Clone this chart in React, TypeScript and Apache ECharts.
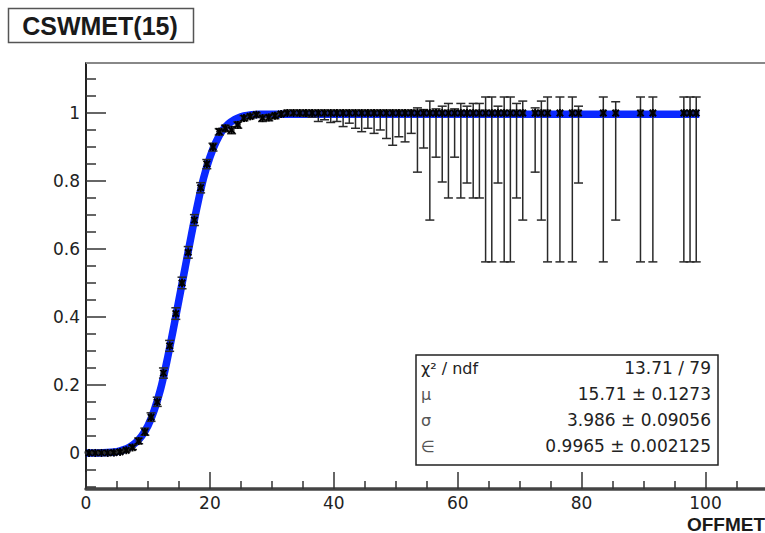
import React, { useEffect, useRef } from "react";
import * as echarts from "echarts";

// ---- data ----
const binCenters = [
  0.5, 1.5, 2.5, 3.5, 4.5, 5.5, 6.5, 7.5, 8.5, 9.5,
  10.5, 11.5, 12.5, 13.5, 14.5, 15.5, 16.5, 17.5, 18.5, 19.5,
  20.5, 21.5, 22.5, 23.5, 24.5, 25.5, 26.5, 27.5, 28.5, 29.5,
  30.5, 31.5, 32.5,
  33.5, 34.5, 35.5, 36.5, 37.5, 38.5, 39.5, 40.5, 41.5, 42.5,
  43.5, 44.5, 45.5, 46.5, 47.5, 48.5, 49.5, 50.5, 51.5, 52.5,
  53.5, 54.5, 55.5, 56.5, 57.5, 58.5, 59.5, 60.5, 61.5, 62.5, 63.5,
  64.5, 65.5, 66.5, 67.5, 68.5, 69.5, 70.5, 72.5, 73.5, 74.5,
  76.5, 78.5, 79.5, 83.5, 85.5, 89.5, 91.5, 96.5, 97.5, 98.5,
];

const efficiency = [
  0, 0, 0, 0, 0.001, 0.003, 0.008, 0.016, 0.035, 0.062,
  0.105, 0.15, 0.235, 0.315, 0.41, 0.5, 0.59, 0.685, 0.78, 0.85,
  0.9, 0.945, 0.955, 0.95, 0.965, 0.985, 0.99, 0.995, 0.985, 0.987,
  0.992, 0.997, 1,
  1, 1, 1, 1, 1, 1, 1, 1, 1, 1,
  1, 1, 1, 1, 1, 1, 1, 1, 1, 1,
  1, 1, 1, 1, 1, 1, 1, 1, 1, 1, 1,
  1, 1, 1, 1, 1, 1, 1, 1, 1, 1,
  1, 1, 1, 1, 1, 1, 1, 1, 1, 1,
];

const errDown = [
  0, 0, 0, 0, 0.001, 0.002, 0.004, 0.006, 0.008, 0.01,
  0.012, 0.013, 0.015, 0.016, 0.017, 0.017, 0.017, 0.016, 0.015, 0.014,
  0.012, 0.01, 0.01, 0.011, 0.01, 0.008, 0.007, 0.006, 0.01, 0.01,
  0.009, 0.006, 0.005,
  0.006, 0.008, 0.01, 0.012, 0.025, 0.02, 0.028, 0.025, 0.04, 0.03,
  0.045, 0.055, 0.045, 0.06, 0.05, 0.075, 0.095, 0.07, 0.085, 0.06,
  0.174, 0.103, 0.315, 0.13, 0.203, 0.25, 0.13, 0.25, 0.206, 0.25, 0.25,
  0.438, 0.438, 0.206, 0.438, 0.438, 0.25, 0.315, 0.174, 0.315, 0.438,
  0.438, 0.438, 0.206, 0.438, 0.315, 0.438, 0.438, 0.438, 0.438, 0.438,
];

const errUp = [
  0.003, 0.003, 0.003, 0.003, 0.003, 0.004, 0.005, 0.007, 0.009, 0.011,
  0.013, 0.014, 0.015, 0.016, 0.017, 0.017, 0.017, 0.016, 0.015, 0.013,
  0.011, 0.009, 0.009, 0.01, 0.009, 0.007, 0.006, 0.005, 0.008, 0.008,
  0.007, 0.006, 0.008,
  0.008, 0.008, 0.008, 0.008, 0.008, 0.008, 0.008, 0.008, 0.008, 0.008,
  0.008, 0.008, 0.008, 0.008, 0.008, 0.008, 0.008, 0.008, 0.008, 0.008,
  0.015, 0.01, 0.035, 0.012, 0.02, 0.028, 0.012, 0.028, 0.02, 0.028, 0.028,
  0.047, 0.047, 0.02, 0.047, 0.047, 0.028, 0.035, 0.015, 0.035, 0.047,
  0.047, 0.047, 0.02, 0.047, 0.033, 0.047, 0.047, 0.047, 0.047, 0.047,
];

const fitX = [0, 2, 4, 5, 6, 7, 8, 9, 10, 11, 12, 13, 14, 15, 16, 17, 18, 19, 20, 21, 22, 23, 24, 25, 26, 28, 30, 99];
const fitY = [0, 0, 0.002, 0.004, 0.009, 0.017, 0.03, 0.05, 0.08, 0.125, 0.185, 0.265, 0.355, 0.45, 0.545, 0.64, 0.73, 0.81, 0.87, 0.915, 0.948, 0.968, 0.981, 0.989, 0.993, 0.996, 0.9965, 0.9965];

const yMajorTicks = [0, 0.2, 0.4, 0.6, 0.8, 1];
const yMinorTicks = [-0.1, -0.05, 0.05, 0.1, 0.15, 0.25, 0.3, 0.35, 0.45, 0.5, 0.55, 0.65, 0.7, 0.75, 0.85, 0.9, 0.95, 1.05, 1.1];
const xMajorTicks = [0, 20, 40, 60, 80, 100];
const xMinorTicks = [5, 10, 15, 25, 30, 35, 45, 50, 55, 65, 70, 75, 85, 90, 95, 105];

const titleText = "CSWMET(15)";
const xTitle = "OFFMET";
const statNames = ["χ² / ndf", "μ", "σ", "∈"];
const statValues = ["13.71 / 79", "15.71 ± 0.1273", "3.986 ± 0.09056", "0.9965 ± 0.002125"];

const X_MIN = 0;
const X_MAX = 109.6;
const Y_MIN = -0.106;
const Y_MAX = 1.147;

const FONT = "'DejaVu Sans', 'Liberation Sans', sans-serif";

export default function App() {
  const ref = useRef<HTMLDivElement>(null);

  useEffect(() => {
    if (!ref.current) return;
    const chart = echarts.init(ref.current, null, { renderer: "svg" });

    const points = binCenters.map((x, i) => [
      x,
      efficiency[i],
      efficiency[i] - errDown[i],
      efficiency[i] + errUp[i],
    ]);
    const fitData = fitX.map((x, i) => [x, fitY[i]]);

    const labelStyle = { color: "#222", fontFamily: FONT, fontSize: 17 };

    const option: any = {
      animation: false,
      backgroundColor: "#ffffff",
      grid: { left: 86, top: 63, right: -5, bottom: 44, containLabel: false },
      xAxis: [
        {
          type: "value",
          min: X_MIN,
          max: X_MAX,
          position: "bottom",
          axisLine: { show: true, onZero: false, lineStyle: { color: "#444", width: 3.5 } },
          axisTick: { show: true, inside: true, length: 17, customValues: xMajorTicks, lineStyle: { color: "#333", width: 1.5 } },
          axisLabel: { show: true, customValues: xMajorTicks, margin: 5, ...labelStyle },
          splitLine: { show: false },
        },
        {
          type: "value",
          min: X_MIN,
          max: X_MAX,
          position: "bottom",
          axisLine: { show: false, onZero: false },
          axisTick: { show: true, inside: true, length: 8, customValues: xMinorTicks, lineStyle: { color: "#333", width: 1.5 } },
          axisLabel: { show: false },
          splitLine: { show: false },
        },
      ],
      yAxis: [
        {
          type: "value",
          min: Y_MIN,
          max: Y_MAX,
          position: "left",
          axisLine: { show: true, onZero: false, lineStyle: { color: "#222", width: 2 } },
          axisTick: { show: true, inside: true, length: 20, customValues: yMajorTicks, lineStyle: { color: "#333", width: 1.5 } },
          axisLabel: {
            show: true,
            customValues: yMajorTicks,
            margin: 6,
            formatter: (v: number) => String(+v.toFixed(1)),
            ...labelStyle,
          },
          splitLine: { show: false },
        },
        {
          type: "value",
          min: Y_MIN,
          max: Y_MAX,
          position: "left",
          axisLine: { show: false, onZero: false },
          axisTick: { show: true, inside: true, length: 10, customValues: yMinorTicks, lineStyle: { color: "#333", width: 1.5 } },
          axisLabel: { show: false },
          splitLine: { show: false },
        },
      ],
      series: [
        {
          type: "line",
          xAxisIndex: 0,
          yAxisIndex: 0,
          data: fitData,
          showSymbol: false,
          smooth: 0.4,
          lineStyle: { color: "#0a28ff", width: 7.5 },
          z: 2,
        },
        {
          type: "custom",
          xAxisIndex: 0,
          yAxisIndex: 0,
          data: points,
          encode: { x: 0, y: 1 },
          z: 3,
          renderItem: (params: any, api: any) => {
            const x = api.value(0);
            const y = api.value(1);
            const lo = api.value(2);
            const hi = api.value(3);
            const c = api.coord([x, y]);
            const pl = api.coord([x - 0.5, y]);
            const pr = api.coord([x + 0.5, y]);
            const pLo = api.coord([x, lo]);
            const pHi = api.coord([x, hi]);
            const cap = 4.5;
            const st = { stroke: "#2a2a2a", lineWidth: 1.5 };
            const mk = { stroke: "#000", lineWidth: 2 };
            const m = 4;
            const d = 3.2;
            const children: any[] = [
              { type: "line", shape: { x1: c[0], y1: pLo[1], x2: c[0], y2: pHi[1] }, style: st },
              { type: "line", shape: { x1: c[0] - cap, y1: pLo[1], x2: c[0] + cap, y2: pLo[1] }, style: st },
              { type: "line", shape: { x1: c[0] - cap, y1: pHi[1], x2: c[0] + cap, y2: pHi[1] }, style: st },
              { type: "line", shape: { x1: pl[0], y1: c[1], x2: pr[0], y2: c[1] }, style: st },
              { type: "line", shape: { x1: c[0] - d, y1: c[1] - d, x2: c[0] + d, y2: c[1] + d }, style: mk },
              { type: "line", shape: { x1: c[0] - d, y1: c[1] + d, x2: c[0] + d, y2: c[1] - d }, style: mk },
              { type: "line", shape: { x1: c[0], y1: c[1] - m, x2: c[0], y2: c[1] + m }, style: mk },
            ];
            return { type: "group", children };
          },
        },
      ],
      graphic: [
        {
          type: "line",
          z: 50,
          shape: { x1: 86, y1: 63, x2: 765, y2: 63 },
          style: { stroke: "#888", lineWidth: 2 },
        },
        {
          type: "rect",
          z: 100,
          shape: { x: 8.5, y: 8.5, width: 185, height: 34 },
          style: { fill: "#fff", stroke: "#555", lineWidth: 1.5 },
        },
        {
          type: "text",
          z: 101,
          x: 100,
          y: 26,
          style: {
            text: titleText,
            fontFamily: "'Liberation Sans', Arial, sans-serif",
            fontWeight: "bold",
            fontSize: 25,
            fill: "#1a1a1a",
            align: "center",
            verticalAlign: "middle",
          },
        },
        {
          type: "rect",
          z: 100,
          shape: { x: 416, y: 355, width: 302, height: 110 },
          style: { fill: "#fff", stroke: "#222", lineWidth: 1.5 },
        },
        ...statNames.map((n, i) => ({
          type: "text",
          z: 101,
          x: 421,
          y: 368 + i * 26,
          style: {
            text: n,
            fontFamily: FONT,
            fontSize: 16,
            fill: i === 0 ? "#222" : "#555",
            align: "left",
            verticalAlign: "middle",
          },
        })),
        ...statValues.map((v, i) => ({
          type: "text",
          z: 101,
          x: 711,
          y: 368 + i * 26,
          style: {
            text: v,
            fontFamily: FONT,
            fontSize: 17,
            fill: "#222",
            align: "right",
            verticalAlign: "middle",
          },
        })),
        {
          type: "text",
          z: 101,
          x: 765,
          y: 524,
          style: {
            text: xTitle,
            fontFamily: "'Liberation Sans', Arial, sans-serif",
            fontWeight: "bold",
            fontSize: 19,
            fill: "#1a1a1a",
            align: "right",
            verticalAlign: "middle",
          },
        },
      ],
    };

    chart.setOption(option);
    return () => {
      chart.dispose();
    };
  }, []);

  return (
    <div
      ref={ref}
      style={{ position: "absolute", left: 0, top: 0, width: 765, height: 533, background: "#fff" }}
    />
  );
}
